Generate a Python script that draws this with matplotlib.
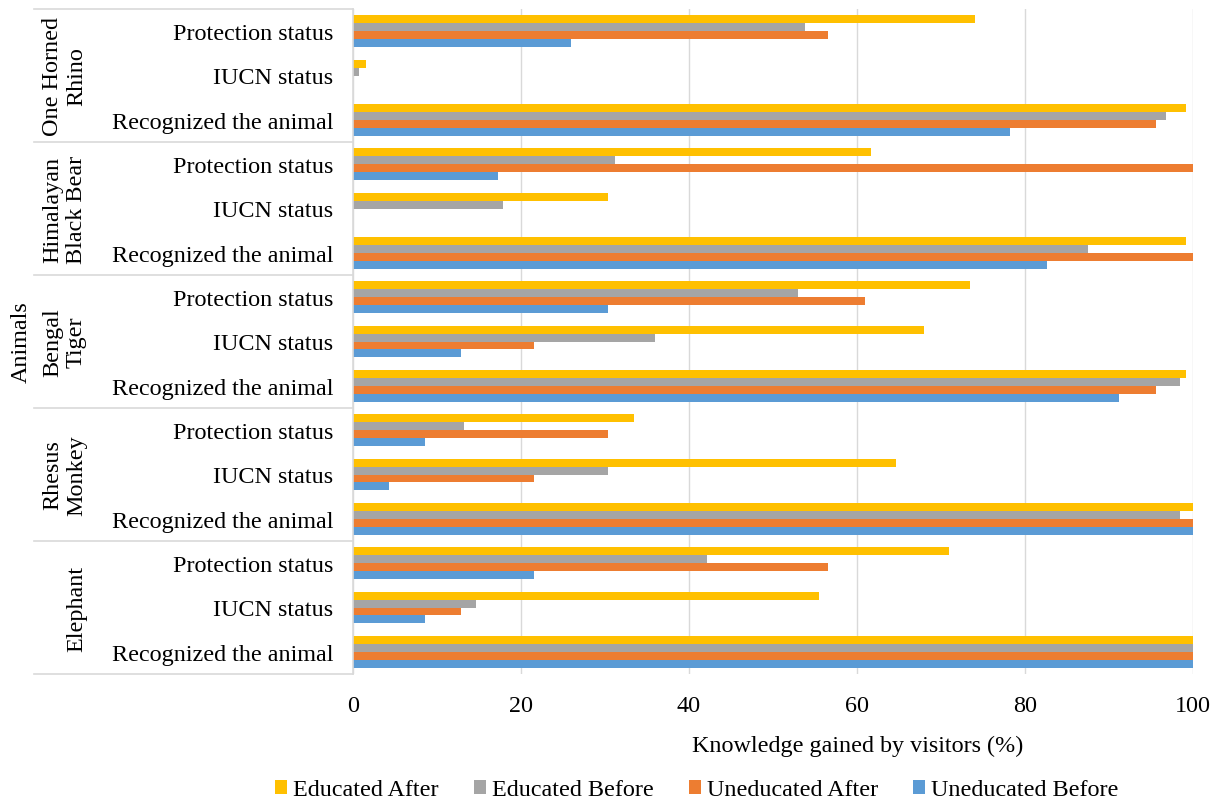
import matplotlib.pyplot as plt
import matplotlib.transforms as mtransforms
import numpy as np

plt.rcParams['font.family'] = ['Liberation Serif', 'DejaVu Serif']

# categories listed bottom to top, as drawn
animals = ['Elephant', 'Rhesus\nMonkey', 'Bengal\nTiger', 'Himalayan\nBlack Bear', 'One Horned\nRhino']
items = ['Recognized the animal', 'IUCN status', 'Protection status']

series = ['Educated After', 'Educated Before', 'Uneducated After', 'Uneducated Before']
colors = ['#FFC000', '#A5A5A5', '#ED7D31', '#5B9BD5']

# per animal (bottom to top), per item (Recognized, IUCN, Protection)
educated_after = [
    [100, 55.5, 71.0],
    [100, 64.7, 33.5],
    [99.2, 68.0, 73.4],
    [99.2, 30.4, 61.7],
    [99.2, 1.5, 74.1],
]
educated_before = [
    [100, 14.7, 42.1],
    [98.5, 30.4, 13.2],
    [98.5, 35.9, 53.0],
    [87.5, 17.9, 31.2],
    [96.8, 0.7, 53.8],
]
uneducated_after = [
    [100, 12.9, 56.5],
    [100, 21.5, 30.4],
    [95.6, 21.5, 60.9],
    [100, 0, 100],
    [95.6, 0, 56.5],
]
uneducated_before = [
    [100, 8.6, 21.5],
    [100, 4.3, 8.6],
    [91.2, 12.9, 30.4],
    [82.6, 0, 17.3],
    [78.2, 0, 26.0],
]

all_series = [educated_after, educated_before, uneducated_after, uneducated_before]

FS = 17.4

fig = plt.figure(figsize=(12.21, 8.04), dpi=100)
W, H = 1221, 804
ax = fig.add_axes([353 / W, 1 - 675 / H, 840 / W, 665 / H])

n = len(animals) * len(items)
y = np.arange(n)
h = 0.177
offsets = [1.5 * h, 0.5 * h, -0.5 * h, -1.5 * h]

for vals, name, col, off in zip(all_series, series, colors, offsets):
    flat = np.array(vals).flatten()
    ax.barh(y + off, flat, height=h, color=col, label=name, zorder=2)

ax.set_xlim(0, 100)
ax.set_ylim(-0.5, n - 0.5)
ax.set_xticks([0, 20, 40, 60, 80, 100])
ax.set_yticks(y)
ax.set_yticklabels(items * len(animals))
ax.tick_params(axis='y', length=0, pad=14, labelsize=FS, colors='black')
ax.tick_params(axis='x', length=0, pad=15, labelsize=FS, colors='black')
ax.grid(axis='x', color='#D9D9D9', lw=1, zorder=0)
for s in ['top', 'right', 'bottom']:
    ax.spines[s].set_visible(False)
ax.spines['left'].set_color('#D9D9D9')
ax.spines['left'].set_linewidth(1.2)

ax.set_xlabel('Knowledge gained by visitors (%)', fontsize=FS)
ax.xaxis.set_label_coords((858 - 353) / 840, -0.092)

# category table to the left
trans = mtransforms.blended_transform_factory(ax.transAxes, ax.transData)
x_left = (34 - 353) / 840
for k in range(len(animals) + 1):
    yy = k * len(items) - 0.5
    ax.plot([x_left, 0], [yy, yy], transform=trans, color='#D9D9D9', lw=1.2, clip_on=False)
x_lab = (87 - 353) / 840
for k, a in enumerate(animals):
    yc = k * len(items) + 1
    ax.text(x_lab, yc, a, transform=trans, rotation=90, ha='right', va='center',
            fontsize=FS, multialignment='center', linespacing=1.2)

ax.text((21 - 353) / 840, 0.5, 'Animals', transform=ax.transAxes, rotation=90,
        ha='center', va='center', fontsize=FS)

fig.legend(loc='center', bbox_to_anchor=(697 / W, 1 - 791 / H), ncol=4, frameon=False,
           fontsize=FS, handlelength=0.5, handleheight=0.5, handletextpad=0.25,
           columnspacing=1.45, borderaxespad=0)

fig.savefig('out.png', dpi=100)
